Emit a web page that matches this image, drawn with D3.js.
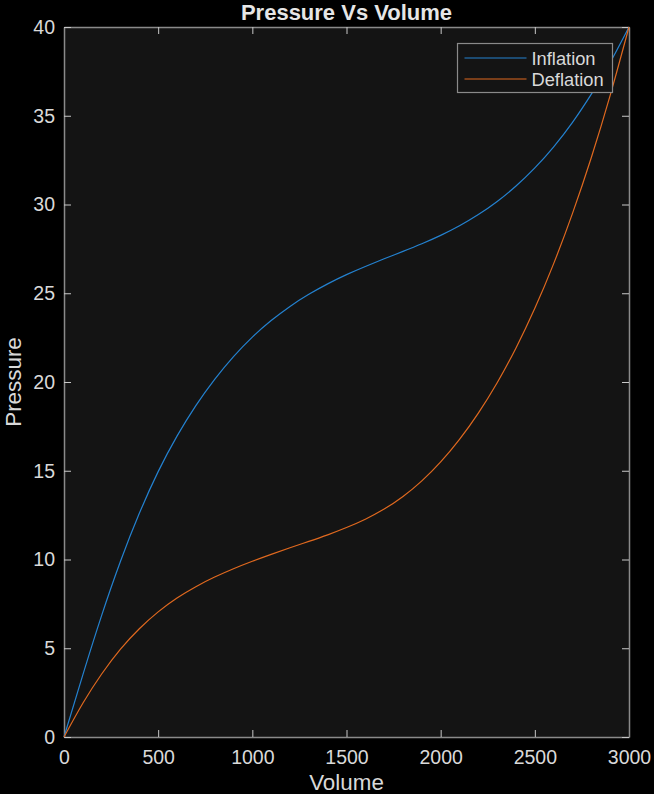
<!DOCTYPE html>
<html>
<head>
<meta charset="utf-8">
<script src="https://cdn.jsdelivr.net/npm/d3@7"></script>
<style>
  html, body { margin: 0; padding: 0; background: #000; }
  svg text { font-family: "Liberation Sans", Arial, sans-serif; }
</style>
</head>
<body>
<div id="chart"></div>
<script>
// data
var volume = [0, 100, 200, 300, 400, 500, 600, 700, 800, 900, 1000,
              1100, 1200, 1300, 1400, 1500, 1600, 1700, 1800, 1900, 2000,
              2100, 2200, 2300, 2400, 2500, 2600, 2700, 2800, 2900, 3000];
var inflation = [0, 3.5, 6.85, 9.9, 12.6, 14.95, 16.95, 18.67, 20.15, 21.43, 22.53,
                 23.46, 24.26, 24.94, 25.53, 26.05, 26.51, 26.94, 27.36, 27.79, 28.26,
                 28.8, 29.43, 30.17, 31.04, 32.06, 33.25, 34.63, 36.22, 38.0, 40.0];
var deflation = [0, 1.9, 3.55, 4.95, 6.1, 7.05, 7.83, 8.47, 9.01, 9.48, 9.9,
                 10.29, 10.66, 11.02, 11.39, 11.8, 12.27, 12.84, 13.55, 14.43, 15.5,
                 16.77, 18.25, 19.96, 21.92, 24.15, 26.67, 29.5, 32.65, 36.15, 40.0];
var seriesNames = ["Inflation", "Deflation"];
var xTicks = [0, 500, 1000, 1500, 2000, 2500, 3000];
var yTicks = [0, 5, 10, 15, 20, 25, 30, 35, 40];

var colors = ["#2482d0", "#e0691f"];
var width = 654, height = 794;
var margin = {left: 64, top: 27, right: 25, bottom: 57};

var svg = d3.select("#chart").append("svg")
    .attr("width", width)
    .attr("height", height)
    .style("display", "block");

svg.append("rect").attr("width", width).attr("height", height).attr("fill", "#000");

var xScale = d3.scaleLinear().domain([0, 3000]).range([margin.left, width - margin.right]);
var yScale = d3.scaleLinear().domain([0, 40]).range([height - margin.bottom, margin.top]);

// plot background
svg.append("rect")
    .attr("x", xScale(0)).attr("y", yScale(40))
    .attr("width", xScale(3000) - xScale(0))
    .attr("height", yScale(0) - yScale(40))
    .attr("fill", "#141414");

// axes, ticks inside, on all four sides
function styleAxis(g) {
    g.select(".domain").attr("stroke", "#8a8a8a").attr("stroke-width", 1.5);
    g.selectAll(".tick line").attr("stroke", "#c8c8c8");
    g.selectAll(".tick text").attr("fill", "#d9d9d9").attr("font-size", "19.5px");
}

svg.append("g")
    .attr("transform", `translate(0, ${yScale(0)})`)
    .call(d3.axisBottom(xScale).tickValues(xTicks).tickFormat(d3.format("d"))
        .tickSizeInner(-7).tickSizeOuter(0).tickPadding(13))
    .call(styleAxis);

svg.append("g")
    .attr("transform", `translate(0, ${yScale(40)})`)
    .call(d3.axisTop(xScale).tickValues(xTicks).tickSizeInner(-7).tickSizeOuter(0).tickFormat(""))
    .call(styleAxis);

svg.append("g")
    .attr("transform", `translate(${xScale(0)}, 0)`)
    .call(d3.axisLeft(yScale).tickValues(yTicks).tickSizeInner(-7).tickSizeOuter(0).tickPadding(9))
    .call(styleAxis);

svg.append("g")
    .attr("transform", `translate(${xScale(3000)}, 0)`)
    .call(d3.axisRight(yScale).tickValues(yTicks).tickSizeInner(-7).tickSizeOuter(0).tickFormat(""))
    .call(styleAxis);

// curves
var line = d3.line()
    .x((d) => xScale(d[0]))
    .y((d) => yScale(d[1]))
    .curve(d3.curveNatural);

[inflation, deflation].forEach(function(series, i) {
    svg.append("path")
        .datum(volume.map((v, j) => [v, series[j]]))
        .attr("fill", "none")
        .attr("stroke", colors[i])
        .attr("stroke-width", 1.2)
        .attr("d", line);
});

// legend
var legend = svg.append("g").attr("transform", "translate(457.5, 43.5)");
legend.append("rect")
    .attr("width", 155).attr("height", 49)
    .attr("fill", "#141414")
    .attr("stroke", "#8a8a8a")
    .attr("stroke-width", 1.2);
seriesNames.forEach(function(name, i) {
    var y = 14.5 + i * 21;
    legend.append("line")
        .attr("x1", 7).attr("x2", 69)
        .attr("y1", y).attr("y2", y)
        .attr("stroke", colors[i]).attr("stroke-width", 1.2);
    legend.append("text")
        .attr("x", 74).attr("y", y + 6.5)
        .attr("fill", "#d9d9d9")
        .attr("font-size", "18.3px")
        .text(name);
});

// title and labels
svg.append("text")
    .attr("x", (xScale(0) + xScale(3000)) / 2)
    .attr("y", 19.5)
    .attr("text-anchor", "middle")
    .attr("fill", "#e6e6e6")
    .attr("font-size", "22px")
    .attr("font-weight", "bold")
    .text("Pressure Vs Volume");

svg.append("text")
    .attr("x", (xScale(0) + xScale(3000)) / 2)
    .attr("y", 790)
    .attr("text-anchor", "middle")
    .attr("fill", "#d9d9d9")
    .attr("font-size", "22.4px")
    .text("Volume");

svg.append("text")
    .attr("transform", `translate(20.5, ${(yScale(0) + yScale(40)) / 2}) rotate(-90)`)
    .attr("text-anchor", "middle")
    .attr("fill", "#d9d9d9")
    .attr("font-size", "22.4px")
    .text("Pressure");
</script>
</body>
</html>
